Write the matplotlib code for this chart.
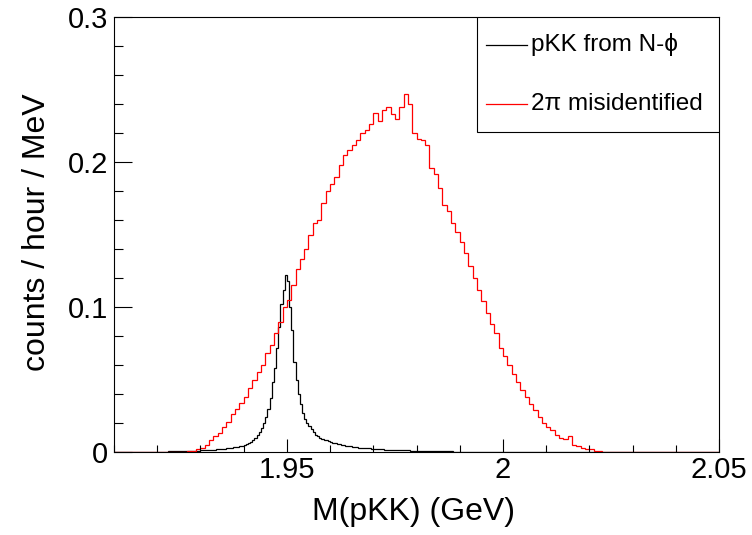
import numpy as np
import matplotlib
matplotlib.use("Agg")
import matplotlib.pyplot as plt
from matplotlib.lines import Line2D
from matplotlib.patches import Rectangle
from matplotlib.ticker import FixedLocator, FixedFormatter, MultipleLocator

plt.rcParams["font.family"] = ["Liberation Sans", "DejaVu Sans"]

# ── Histogram data (counts / hour / MeV) ─────────────────────────────────────
x_lo, x_hi = 1.91, 2.05

# 2pi misidentified: 1 MeV bins starting at 1.925 GeV
red_start = 1.925
red_width = 0.001
red_vals = [
    0.000, 0.000, 0.001, 0.001, 0.002, 0.003, 0.005, 0.008, 0.011, 0.013,
    0.017, 0.021, 0.026, 0.030, 0.034, 0.038, 0.044, 0.050, 0.055, 0.060,
    0.068, 0.074, 0.082, 0.090, 0.100, 0.105, 0.115, 0.126, 0.133, 0.140,
    0.150, 0.158, 0.160, 0.172, 0.180, 0.185, 0.190, 0.198, 0.205, 0.208,
    0.212, 0.215, 0.220, 0.222, 0.226, 0.234, 0.228, 0.236, 0.238, 0.233,
    0.230, 0.238, 0.247, 0.240, 0.220, 0.216, 0.215, 0.212, 0.196, 0.192,
    0.182, 0.170, 0.166, 0.158, 0.152, 0.145, 0.137, 0.128, 0.120, 0.112,
    0.104, 0.096, 0.088, 0.082, 0.072, 0.066, 0.060, 0.054, 0.048, 0.043,
    0.038, 0.033, 0.029, 0.024, 0.020, 0.017, 0.015, 0.012, 0.010, 0.009,
    0.011, 0.005, 0.004, 0.003, 0.002, 0.002, 0.001, 0.001, 0.000,
]

# pKK from N-phi: 0.5 MeV bins starting at 1.920 GeV
blk_start = 1.920
blk_width = 0.0005
blk_vals = [
    0.0002, 0.0002, 0.0003, 0.0003, 0.0003, 0.0004, 0.0004, 0.0004, 0.0005, 0.0005,
    0.0005, 0.0006, 0.0006, 0.0007, 0.0007, 0.0008, 0.0008, 0.0009, 0.0009, 0.0010,
    0.0011, 0.0012, 0.0013, 0.0014, 0.0015, 0.0016, 0.0017, 0.0018, 0.0019, 0.0020,
    0.0022, 0.0024, 0.0026, 0.0028, 0.0030, 0.0032, 0.0034, 0.0037, 0.0040, 0.0043,
    0.0050, 0.0055, 0.0062, 0.0070, 0.0085, 0.0100, 0.0118, 0.0138, 0.0165, 0.0200,
    0.0240, 0.0300, 0.0370, 0.0480, 0.0580, 0.0720, 0.0860, 0.1020, 0.1120, 0.1220,
    0.1180, 0.1000, 0.0840, 0.0620, 0.0500, 0.0400, 0.0330, 0.0270, 0.0230, 0.0200,
    0.0180, 0.0160, 0.0140, 0.0120, 0.0110, 0.0100, 0.0092, 0.0085, 0.0080, 0.0074,
    0.0068, 0.0063, 0.0059, 0.0055, 0.0052, 0.0049, 0.0046, 0.0043, 0.0040, 0.0038,
    0.0036, 0.0034, 0.0032, 0.0031, 0.0029, 0.0028, 0.0027, 0.0026, 0.0025, 0.0024,
    0.0022, 0.0021, 0.0020, 0.0019, 0.0018, 0.0017, 0.0016, 0.0016, 0.0015, 0.0014,
    0.0014, 0.0013, 0.0013, 0.0012, 0.0012, 0.0011, 0.0011, 0.0010, 0.0010, 0.0009,
    0.0009, 0.0008, 0.0008, 0.0008, 0.0007, 0.0007, 0.0007, 0.0006, 0.0006, 0.0006,
    0.0005, 0.0005, 0.0005, 0.0004, 0.0004, 0.0004, 0.0004, 0.0003, 0.0003, 0.0003,
    0.0003, 0.0003, 0.0002, 0.0002, 0.0002, 0.0002, 0.0002, 0.0001, 0.0001, 0.0001,
]

x_ticks = [1.95, 2.0, 2.05]
x_ticklabels = ["1.95", "2", "2.05"]
y_ticks = [0.0, 0.1, 0.2, 0.3]
y_ticklabels = ["0", "0.1", "0.2", "0.3"]

series_labels = ["pKK from N-\u03d5", "2\u03c0 misidentified"]
series_colors = ["black", "red"]


def full_hist(start, width, vals):
    """Pad a histogram with zero bins so it spans the whole axis range."""
    n_before = int(round((start - x_lo) / width))
    n_total = int(round((x_hi - x_lo) / width))
    full = np.zeros(n_total)
    full[n_before:n_before + len(vals)] = vals
    edges = x_lo + np.arange(n_total + 1) * width
    return edges, full


# ── Figure ───────────────────────────────────────────────────────────────────
W, H = 752, 535
fig = plt.figure(figsize=(W / 100, H / 100), dpi=100, facecolor="white")
ax_l, ax_r, ax_t, ax_b = 114, 719, 17, 452
ax = fig.add_axes([ax_l / W, 1 - ax_b / H, (ax_r - ax_l) / W, (ax_b - ax_t) / H])

e_b, h_b = full_hist(blk_start, blk_width, blk_vals)
e_r, h_r = full_hist(red_start, red_width, red_vals)
ax.stairs(h_b, e_b, color=series_colors[0], lw=0.9, baseline=None)
ax.stairs(h_r, e_r, color=series_colors[1], lw=0.9, baseline=None)

ax.set_xlim(x_lo, x_hi)
ax.set_ylim(0, 0.3)

ax.xaxis.set_major_locator(FixedLocator(x_ticks))
ax.xaxis.set_major_formatter(FixedFormatter(x_ticklabels))
ax.xaxis.set_minor_locator(MultipleLocator(0.01))
ax.yaxis.set_major_locator(FixedLocator(y_ticks))
ax.yaxis.set_major_formatter(FixedFormatter(y_ticklabels))
ax.yaxis.set_minor_locator(MultipleLocator(0.02))

ax.tick_params(axis="both", which="both", direction="in", top=False, right=False,
               width=0.8, labelsize=21)
ax.tick_params(axis="x", which="major", length=9.5, pad=3)
ax.tick_params(axis="x", which="minor", length=5)
ax.tick_params(axis="y", which="major", length=13, pad=4)
ax.tick_params(axis="y", which="minor", length=6.5)
for s in ax.spines.values():
    s.set_linewidth(0.8)

ax.set_xlabel("M(pKK) (GeV)", fontsize=23)
ax.xaxis.set_label_coords((413 - ax_l) / (ax_r - ax_l), (ax_b - 497) / (ax_b - ax_t))
ax.set_ylabel("counts / hour / MeV", fontsize=23)
ax.yaxis.set_label_coords((52 - ax_l) / (ax_r - ax_l), (ax_b - 232) / (ax_b - ax_t))

# ── ROOT-style legend box ────────────────────────────────────────────────────
aw, ah = ax_r - ax_l, ax_b - ax_t
lx0 = (477 - ax_l) / aw
ly0 = (ax_b - 132) / ah
ax.add_patch(Rectangle((lx0, ly0), 1 - lx0, 1 - ly0, transform=ax.transAxes,
                       facecolor="white", edgecolor="black", lw=0.8, zorder=5))
for lab, col, yp in zip(series_labels, series_colors, [45, 104]):
    yy = (ax_b - yp) / ah
    ax.add_line(Line2D([(486 - ax_l) / aw, (527 - ax_l) / aw], [yy, yy],
                       transform=ax.transAxes, color=col, lw=0.9, zorder=6))
    ax.text((531 - ax_l) / aw, yy, lab, transform=ax.transAxes, fontsize=17.5,
            va="center", ha="left", zorder=6)

fig.savefig("out.png", dpi=100, facecolor="white")
